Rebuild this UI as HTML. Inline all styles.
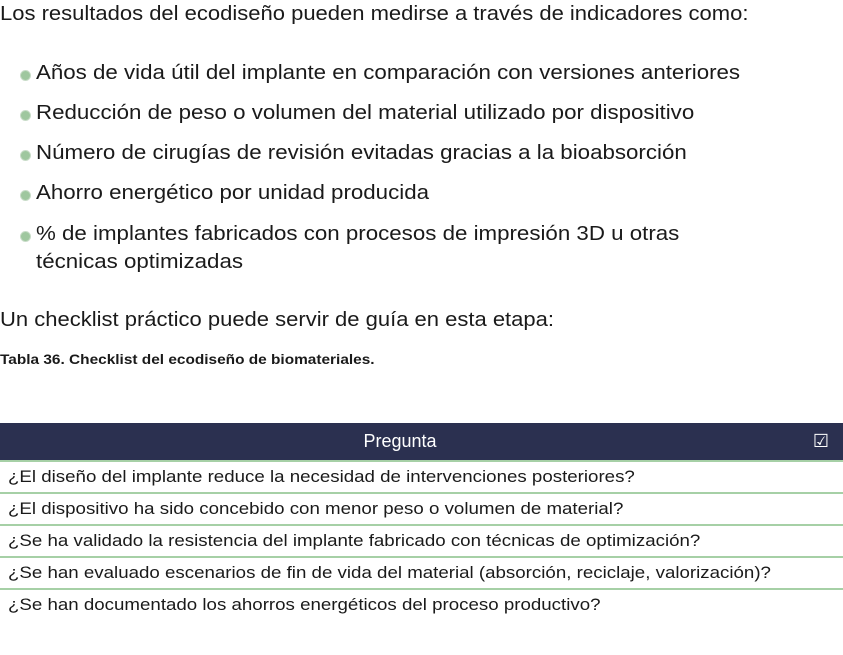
<!DOCTYPE html><html><head><meta charset="utf-8"><style>
body{margin:0;width:843px;height:655px;background:#fff;font-family:"Liberation Sans",sans-serif;color:#1a1a1a;position:relative;overflow:hidden}
.t{position:absolute;white-space:nowrap;left:0;transform-origin:0 0}
.b{position:absolute;left:20px;width:9px;height:9px;border-radius:50%;background:#9fc79f;border:1px solid #c8dcc8}
.tbl{position:absolute;left:0;top:423px;width:843px}
.h{height:37px;background:#2b3050;color:#fff;font-size:18px;line-height:37px;position:relative}
.r{height:30px;border-bottom:2px solid #a6d0a6;font-size:17px;line-height:30px;padding-left:8px;white-space:nowrap}
.r span{display:inline-block;transform:scaleX(1.1);transform-origin:0 0}
</style></head><body>
<div class="t" style="top:3px;font-size:20px;transform:scaleX(1.1)">Los resultados del ecodiseño pueden medirse a través de indicadores como:</div>
<div class="b" style="top:70px"></div><div class="t" style="left:36px;top:62px;font-size:20px;transform:scaleX(1.115)">Años de vida útil del implante en comparación con versiones anteriores</div>
<div class="b" style="top:110px"></div><div class="t" style="left:36px;top:102px;font-size:20px;transform:scaleX(1.115)">Reducción de peso o volumen del material utilizado por dispositivo</div>
<div class="b" style="top:150px"></div><div class="t" style="left:36px;top:142px;font-size:20px;transform:scaleX(1.115)">Número de cirugías de revisión evitadas gracias a la bioabsorción</div>
<div class="b" style="top:190px"></div><div class="t" style="left:36px;top:182px;font-size:20px;transform:scaleX(1.115)">Ahorro energético por unidad producida</div>
<div class="b" style="top:231px"></div><div class="t" style="left:36px;top:223px;font-size:20px;transform:scaleX(1.115)">% de implantes fabricados con procesos de impresión 3D u otras</div>
<div class="t" style="left:36px;top:251px;font-size:20px;transform:scaleX(1.115)">técnicas optimizadas</div>
<div class="t" style="top:309px;font-size:20px;transform:scaleX(1.1)">Un checklist práctico puede servir de guía en esta etapa:</div>
<div class="t" style="top:351px;font-size:14px;font-weight:bold;transform:scaleX(1.1)">Tabla 36. Checklist del ecodiseño de biomateriales.</div>
<div class="tbl">
<div class="h"><span style="position:absolute;left:0;width:800px;text-align:center">Pregunta</span><span style="position:absolute;right:14px;top:0">☑</span></div>
<div class="r" style="border-top:2px solid #a6d0a6"><span>¿El diseño del implante reduce la necesidad de intervenciones posteriores?</span></div>
<div class="r"><span>¿El dispositivo ha sido concebido con menor peso o volumen de material?</span></div>
<div class="r"><span>¿Se ha validado la resistencia del implante fabricado con técnicas de optimización?</span></div>
<div class="r"><span>¿Se han evaluado escenarios de fin de vida del material (absorción, reciclaje, valorización)?</span></div>
<div class="r" style="border-bottom:none"><span>¿Se han documentado los ahorros energéticos del proceso productivo?</span></div>
</div>
</body></html>
